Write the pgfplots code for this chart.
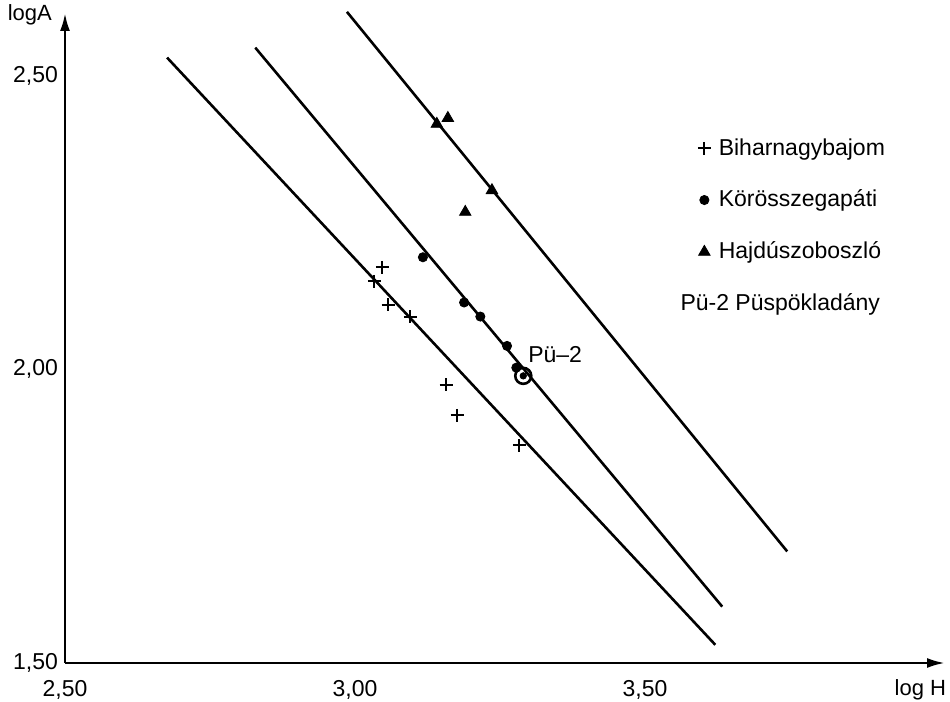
\documentclass[border=0pt]{standalone}
\usepackage{fontspec}
\setmainfont{Liberation Sans}
\usepackage{pgfplots}
\pgfplotsset{compat=1.18}
\usetikzlibrary{arrows.meta}
\begin{document}
\begin{tikzpicture}
\useasboundingbox (-32.5pt,-19.5pt) rectangle (442.5pt,331.5pt);
\begin{axis}[
  at={(0,0)}, anchor=south west,
  scale only axis, width=440pt, height=325pt,
  xmin=2.5, xmax=4.017, ymin=1.5, ymax=2.607,
  axis lines=left,
  axis line style={line width=1.3pt, -{Latex[length=9pt,width=5pt]}},
  xtick={2.5,3,3.5}, ytick={1.5,2,2.5},
  major tick length=0pt,
  tick label style={font=\fontsize{11.5}{13}\selectfont},
  xticklabel style={yshift=-5pt},
  /pgf/number format/fixed, /pgf/number format/fixed zerofill,
  /pgf/number format/precision=2, /pgf/number format/use comma,
  /pgf/number format/assume math mode=true,
  legend style={draw=none, fill=none, at={(rel axis cs:0.712,0.82)}, anchor=north west,
    row sep=12pt, font=\fontsize{11.5}{13}\selectfont, cells={anchor=west},
    nodes={inner xsep=4pt}},
  clip=false,
]
\addplot[line width=1.3pt, no marks, forget plot] coordinates {(2.676,2.531) (3.621,1.531)};
\addplot[line width=1.3pt, no marks, forget plot] coordinates {(2.828,2.548) (3.633,1.596)};
\addplot[line width=1.3pt, no marks, forget plot] coordinates {(2.986,2.609) (3.745,1.690)};
\addplot[only marks, mark=+, mark size=3.2pt, line width=1pt] coordinates {
 (3.047,2.174) (3.033,2.150) (3.057,2.110) (3.095,2.090) (3.157,1.974) (3.176,1.922) (3.283,1.871)};
\addlegendentry{Biharnagybajom}
\addplot[only marks, mark=*, mark size=2.3pt] coordinates {
 (3.117,2.191) (3.188,2.114) (3.216,2.090) (3.262,2.040) (3.278,2.003)};
\addlegendentry{Körösszegapáti}
\addplot[only marks, mark=triangle*, mark size=3.3pt] coordinates {
 (3.160,2.428) (3.141,2.418) (3.236,2.305) (3.190,2.268)};
\addlegendentry{Hajdúszoboszló}
\addplot[only marks, mark=o, mark size=4pt, line width=1.3pt, forget plot] coordinates {(3.290,1.989)};
\addplot[only marks, mark=*, mark size=1.6pt, forget plot] coordinates {(3.290,1.989)};
\node[anchor=west, inner sep=0pt, font=\fontsize{11.5}{13}\selectfont] at (axis cs:3.298,2.026) {Pü–2};
\node[anchor=west, inner sep=0pt, font=\fontsize{11.5}{13}\selectfont] at (rel axis cs:0.699,0.551) {Pü-2 Püspökladány};
\node[font=\fontsize{11}{12}\selectfont] at (rel axis cs:-0.04,0.997) {logA};
\node[font=\fontsize{11}{12}\selectfont] at (rel axis cs:0.972,-0.042) {log H};
\end{axis}
\end{tikzpicture}
\end{document}
